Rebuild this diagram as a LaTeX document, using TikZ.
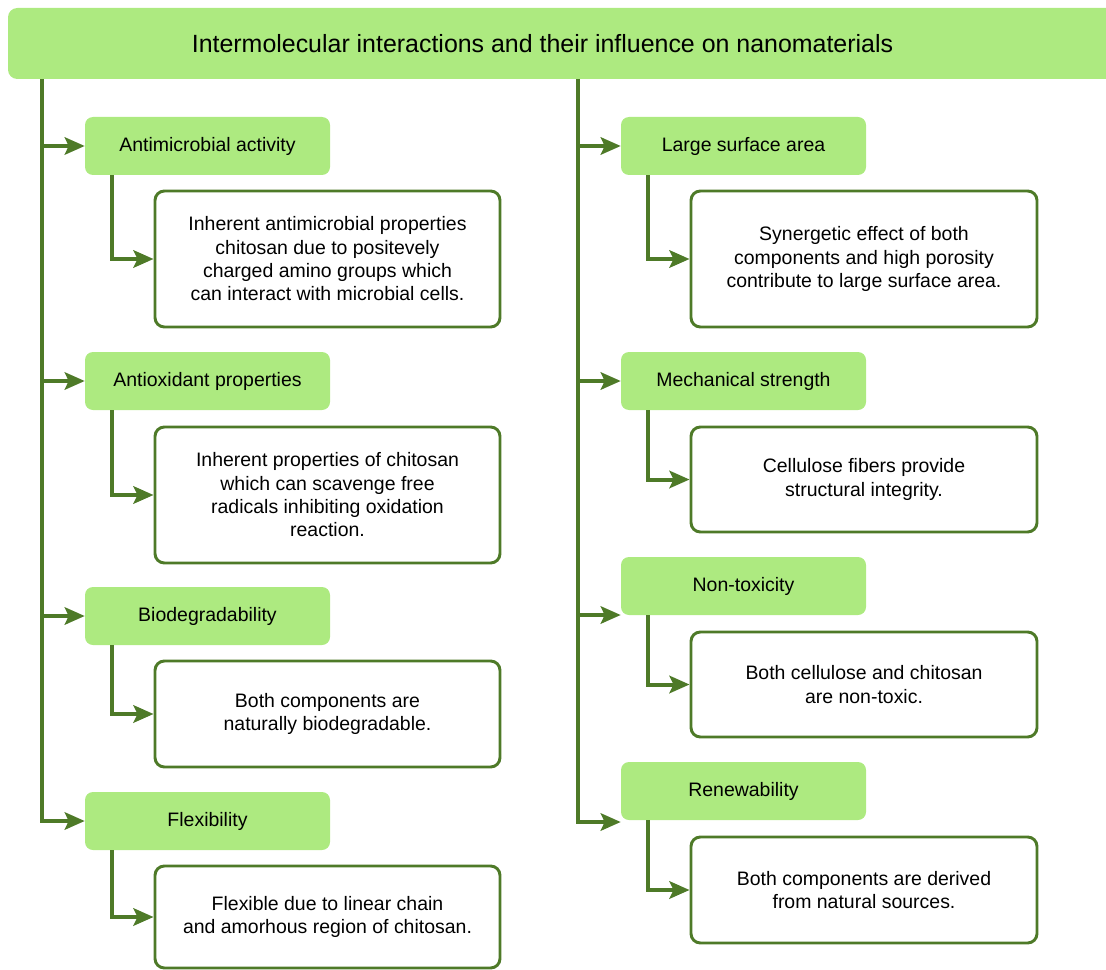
\documentclass[tikz,border=0pt]{standalone}
\usepackage{fontspec}
\setmainfont{Liberation Sans}
\usetikzlibrary{arrows.meta,calc}
\definecolor{boxgreen}{RGB}{173,234,128}
\definecolor{linegreen}{RGB}{78,122,40}
\begin{document}
\begin{tikzpicture}[x=0.75pt,y=-0.75pt,
  titlebox/.style={fill=boxgreen,draw=none,rounded corners=7pt,minimum width=834pt,minimum height=53.25pt,inner sep=0pt},
  headbox/.style={fill=boxgreen,draw=none,rounded corners=6pt,minimum width=183.75pt,minimum height=43.5pt,inner sep=0pt,font=\fontsize{14.6pt}{17.5pt}\selectfont},
  descbox/.style={fill=white,draw=linegreen,line width=2.2pt,rounded corners=7pt,inner sep=0pt,align=center,font=\fontsize{14.6pt}{17.5pt}\selectfont},
  ldesc/.style={descbox,minimum width=258.75pt},
  rdesc/.style={descbox,minimum width=259.5pt},
  conn/.style={draw=linegreen,line width=3pt},
  arr/.style={conn,-{Stealth[length=15pt,width=13pt,inset=3pt]}}
]
\useasboundingbox (0,0) rectangle (1106,970);
\clip (0,0) rectangle (1106,970);
% title
\node[titlebox] (title) at (564,43.5) {};
\node[font=\fontsize{18.7pt}{22pt}\selectfont] (titletext) at (542.5,44) {Intermolecular interactions and their influence on nanomaterials};
% left heads
\node[headbox] (l1) at (207.5,146) {Antimicrobial activity};
\node[headbox] (l2) at (207.5,381) {Antioxidant properties};
\node[headbox] (l3) at (207.5,616) {Biodegradability};
\node[headbox] (l4) at (207.5,821) {Flexibility};
% right heads
\node[headbox] (r1) at (743.5,146) {Large surface area};
\node[headbox] (r2) at (743.5,381) {Mechanical strength};
\node[headbox] (r3) at (743.5,586) {Non-toxicity};
\node[headbox] (r4) at (743.5,791) {Renewability};
% left descriptions
\node[ldesc,minimum height=102pt] (dl1) at (327.5,259) {Inherent antimicrobial properties\\chitosan due to positevely\\charged amino groups which\\can interact with microbial cells.};
\node[ldesc,minimum height=102pt] (dl2) at (327.5,495) {Inherent properties of chitosan\\which can scavenge free\\radicals inhibiting oxidation\\reaction.};
\node[ldesc,minimum height=79.5pt] (dl3) at (327.5,714) {Both components are\\naturally biodegradable.};
\node[ldesc,minimum height=76.5pt] (dl4) at (327.5,917) {Flexible due to linear chain\\and amorhous region of chitosan.};
% right descriptions
\node[rdesc,minimum height=102pt] (dr1) at (864,259) {Synergetic effect of both\\components and high porosity\\contribute to large surface area.};
\node[rdesc,minimum height=78.75pt] (dr2) at (864,479.5) {Cellulose fibers provide\\structural integrity.};
\node[rdesc,minimum height=78.75pt] (dr3) at (864,684.5) {Both cellulose and chitosan\\are non-toxic.};
\node[rdesc,minimum height=79.5pt] (dr4) at (864,890) {Both components are derived\\from natural sources.};
% trunks
\coordinate (ltop) at (42,79);
\coordinate (rtop) at (578,79);
\coordinate (rb3) at (578,615);
\coordinate (rb4) at (578,822);
\draw[arr] (ltop) |- (l4.west);
\draw[arr] (l1.west -| ltop) -- (l1.west);
\draw[arr] (l2.west -| ltop) -- (l2.west);
\draw[arr] (l3.west -| ltop) -- (l3.west);
\draw[arr] (rtop) |- (rb4 -| r4.west);
\draw[arr] (r1.west -| rtop) -- (r1.west);
\draw[arr] (r2.west -| rtop) -- (r2.west);
\draw[arr] (rb3) -- (rb3 -| r3.west);
% sub connectors
\foreach \i in {1,2,3,4}{
  \draw[arr] ([xshift=20.25pt]l\i.south west) |- (dl\i.west);
  \draw[arr] ([xshift=20.25pt]r\i.south west) |- (dr\i.west);
}
\end{tikzpicture}
\end{document}
